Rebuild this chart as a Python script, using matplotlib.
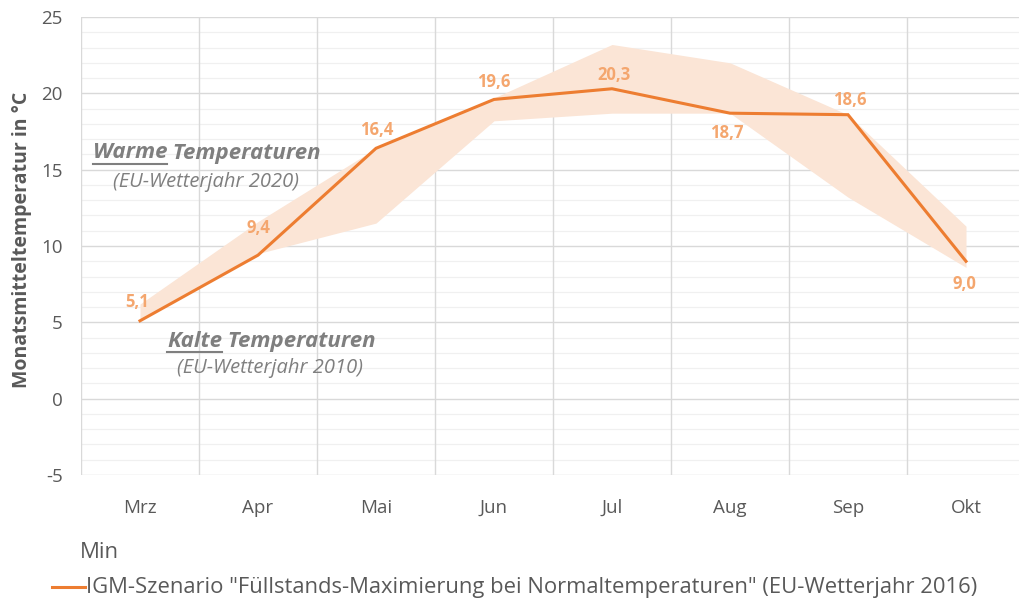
import matplotlib
matplotlib.use("Agg")
import matplotlib.pyplot as plt
import numpy as np

months = ["Mrz", "Apr", "Mai", "Jun", "Jul", "Aug", "Sep", "Okt"]
scenario = [5.1, 9.4, 16.4, 19.6, 20.3, 18.7, 18.6, 9.0]
warm_2020 = [6.2, 11.6, 16.4, 19.7, 23.2, 22.0, 18.6, 11.3]
cold_2010 = [5.1, 9.5, 11.5, 18.2, 18.7, 18.7, 13.2, 8.6]
yticks = [-5, 0, 5, 10, 15, 20, 25]
# label offsets in pixels (centre of label relative to the point)
label_offsets = [(-3, 19), (0, 27), (1, 18), (0, 17), (2, 14), (-3, -20), (2, 15), (-2, -23)]

plt.rcParams['font.family'] = ['Open Sans', 'DejaVu Sans']

ORANGE = "#ED7D31"
BAND = "#FBE5D6"
LABEL = "#F4A66E"
GRAY = "#595959"
ANN = "#7F7F7F"

W, H = 1020, 601
fig = plt.figure(figsize=(W / 100, H / 100), dpi=100)
ax = fig.add_axes([81 / W, (H - 475) / H, 944 / W, (475 - 17) / H])

x = np.arange(len(months))
ax.fill_between(x, cold_2010, warm_2020, color=BAND, lw=0, zorder=2)
ax.plot(x, scenario, color=ORANGE, lw=2.2, zorder=3, solid_joinstyle='miter')

for xi, v, (dx, dy) in zip(x, scenario, label_offsets):
    txt = f"{v:.1f}".replace(".", ",")
    ax.annotate(txt, (xi, v), xytext=(dx, dy), textcoords='offset pixels',
                ha='center', va='center', color=LABEL, fontsize=12, fontweight='bold', zorder=4)

ax.set_xlim(-0.5, len(months) - 0.5)
ax.set_ylim(-5, 25)
ax.set_yticks(yticks)
ax.set_yticklabels([str(t) for t in yticks], color=GRAY, fontsize=13.5)
ax.set_xticks(x)
ax.set_xticklabels(months, color=GRAY, fontsize=13.5)
ax.tick_params(axis='both', which='both', length=0)
ax.tick_params(axis='x', pad=17)
ax.tick_params(axis='y', pad=13)

ax.grid(False)
for yv in np.arange(-5, 26, 1):
    if yv % 5 == 0:
        ax.axhline(yv, color="#D9D9D9", lw=1.0, zorder=1)
    else:
        ax.axhline(yv, color="#F0F0F0", lw=0.9, zorder=0.5)
for xv in np.arange(-0.5, len(months), 1):
    ax.axvline(xv, color="#D9D9D9", lw=1.0, zorder=1)
for s in ax.spines.values():
    s.set_visible(False)

ax.set_ylabel("Monatsmitteltemperatur in °C", color=GRAY, fontsize=14, fontweight='bold')
ax.yaxis.set_label_coords(-0.052, 0.513)

renderer = fig.canvas.get_renderer()


def fx(px):
    return px / W


def fy(py):
    return 1 - py / H


def titled(x0, yc, first, rest, size, yline):
    t1 = fig.text(fx(x0), fy(yc), first, color=ANN, fontsize=size, fontweight='bold',
                  style='italic', ha='left', va='center', zorder=5)
    bb = t1.get_window_extent(renderer)
    fig.text(bb.x1 / W, fy(yc), " " + rest, color=ANN, fontsize=size, fontweight='bold',
             style='italic', ha='left', va='center', zorder=5)
    fig.lines.append(plt.Line2D([fx(x0), bb.x1 / W], [fy(yline), fy(yline)],
                                color=ANN, lw=1.5, transform=fig.transFigure))


titled(93, 153, "Warme", "Temperaturen", 16, 164)
fig.text(fx(206), fy(182), "(EU-Wetterjahr 2020)", color=ANN, fontsize=14.5, style='italic',
         ha='center', va='center')
titled(167, 341, "Kalte", "Temperaturen", 16, 352)
fig.text(fx(270), fy(368), "(EU-Wetterjahr 2010)", color=ANN, fontsize=14.5, style='italic',
         ha='center', va='center')

fig.text(fx(80), fy(553), "Min", color=GRAY, fontsize=16, ha='left', va='center')
fig.lines.append(plt.Line2D([fx(52), fx(85)], [fy(587), fy(587)],
                            color=ORANGE, lw=2.2, transform=fig.transFigure))
fig.text(fx(86), fy(587),
         'IGM-Szenario "Füllstands-Maximierung bei Normaltemperaturen" (EU-Wetterjahr 2016)',
         color=GRAY, fontsize=15.8, ha='left', va='center')

fig.savefig("out.png", dpi=100)
